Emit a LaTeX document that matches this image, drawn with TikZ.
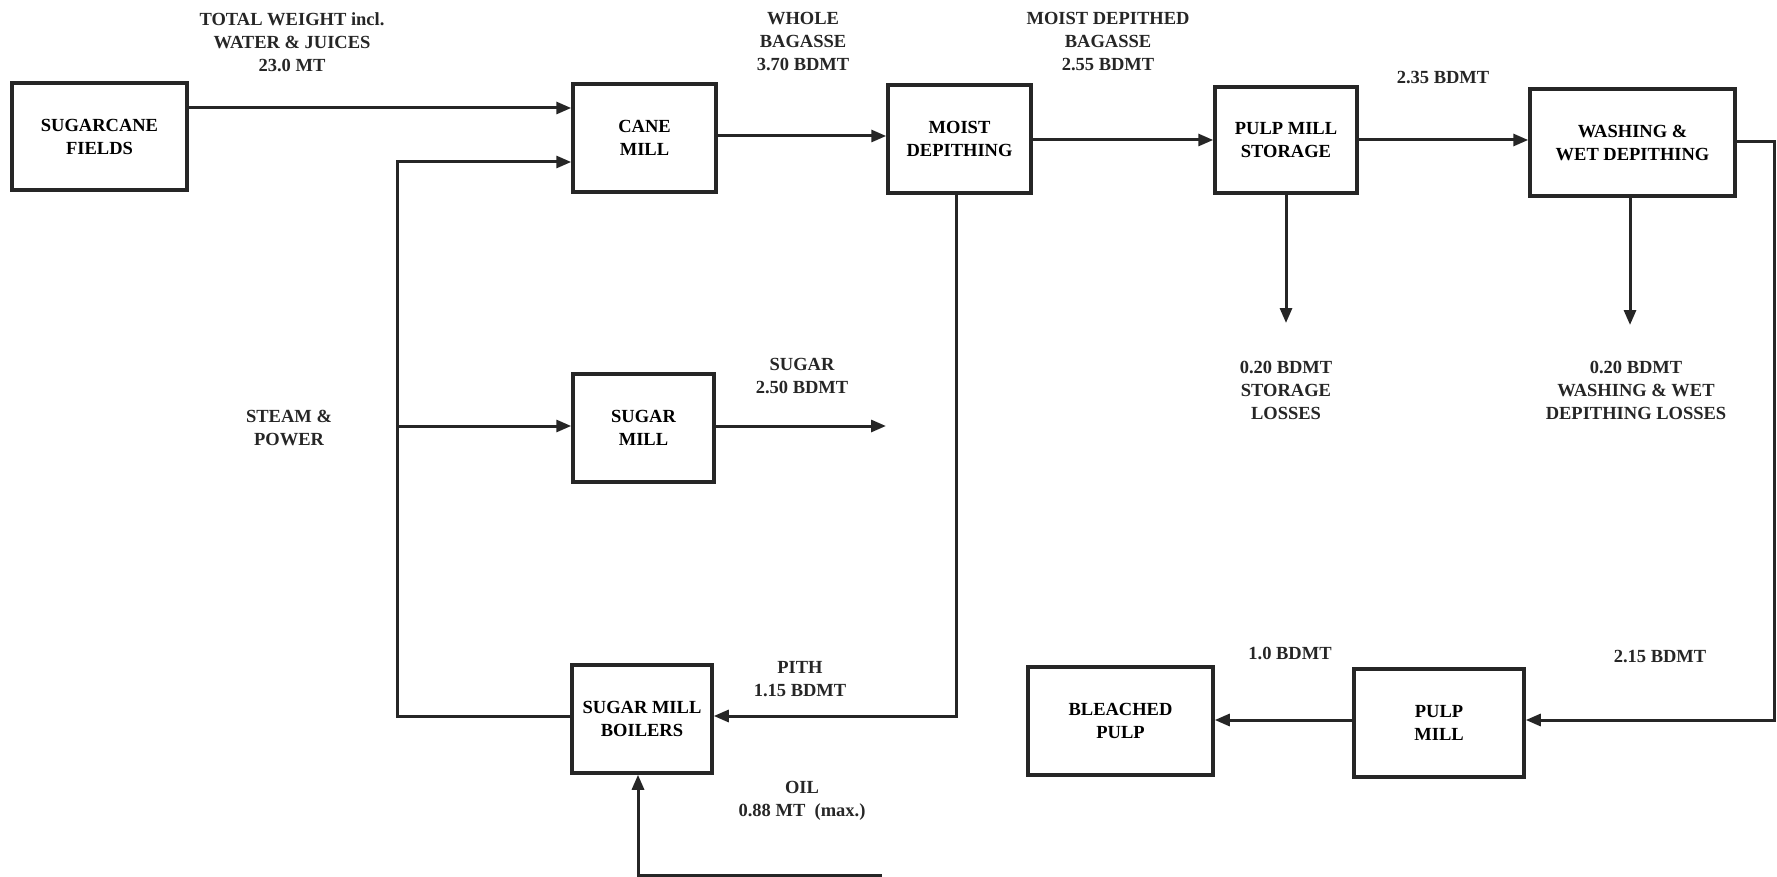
\documentclass[tikz,border=0pt]{standalone}
\usepackage{fontspec}
\setmainfont{Liberation Serif}
\usetikzlibrary{arrows.meta}
\begin{document}
\begin{tikzpicture}[x=1pt,y=-1pt,
  txt/.style={font=\bfseries\fontsize{18.5}{23}\selectfont, align=center},
  box/.style={txt, draw=black!85, line width=3.5pt, inner sep=0pt},
  lbl/.style={txt, inner sep=0pt, anchor=north, text=black!85},
  arr/.style={draw=black!85, line width=3pt, -{Triangle[length=15pt,width=12pt]}},
  ln/.style={draw=black!85, line width=3pt}]
\useasboundingbox (0,0) rectangle (1777,877);
% boxes
\node[box, minimum width=175pt, minimum height=107pt] (fields) at (99.5,136.5) {SUGARCANE\\FIELDS};
\node[box, minimum width=143pt, minimum height=108pt] (cane) at (644.5,138) {CANE\\MILL};
\node[box, minimum width=143pt, minimum height=108pt] (moist) at (959.5,139) {MOIST\\DEPITHING};
\node[box, minimum width=142pt, minimum height=106pt] (stor) at (1286,140) {PULP MILL\\STORAGE};
\node[box, minimum width=205pt, minimum height=107pt] (wash) at (1632.5,142.5) {WASHING \&\\WET DEPITHING};
\node[box, minimum width=141pt, minimum height=108pt] (sugar) at (643.5,428) {SUGAR\\MILL};
\node[box, minimum width=140pt, minimum height=108pt] (boil) at (642,719) {SUGAR MILL\\BOILERS};
\node[box, minimum width=185pt, minimum height=108pt] (bleach) at (1120.5,721) {BLEACHED\\PULP};
\node[box, minimum width=170pt, minimum height=108pt] (pm) at (1439,723) {PULP\\MILL};
% labels
\node[lbl] (l1) at (292,12) {TOTAL WEIGHT incl.\\WATER \& JUICES\\23.0 MT};
\node[lbl] (l2) at (803,12) {WHOLE\\BAGASSE\\3.70 BDMT};
\node[lbl] (l3) at (1108,12) {MOIST DEPITHED\\BAGASSE\\2.55 BDMT};
\node[lbl] (l4) at (1443,71) {2.35 BDMT};
\node[lbl] (l5) at (1286,361) {0.20 BDMT\\STORAGE\\LOSSES};
\node[lbl] (l6) at (1636,361) {0.20 BDMT\\WASHING \& WET\\DEPITHING LOSSES};
\node[lbl] (l7) at (289,410) {STEAM \&\\POWER};
\node[lbl] (l8) at (802,358) {SUGAR\\2.50 BDMT};
\node[lbl] (l9) at (800,661) {PITH\\1.15 BDMT};
\node[lbl] (l10) at (802,781) {OIL\\0.88 MT~~(max.)};
\node[lbl] (l11) at (1290,647) {1.0 BDMT};
\node[lbl] (l12) at (1660,650) {2.15 BDMT};
% free ends
\coordinate (sugarout) at (886,426);
\coordinate (oilend) at (882,875);
\coordinate (stordown) at (1286,323);
\coordinate (washdown) at (1630,325);
% connectors
\draw[arr] (fields.east |- 0,108) -- (cane.west |- 0,108);
\draw[arr] (cane.east |- 0,136) -- (moist.west |- 0,136);
\draw[arr] (moist.east |- 0,140) -- (stor.west |- 0,140);
\draw[arr] (stor.east |- 0,140) -- (wash.west |- 0,140);
\draw[arr] (stor.south) -- (stordown);
\draw[arr] (wash.south -| washdown) -- (washdown);
\draw[arr] (wash.east |- 0,142) -| (1774.5,720) -- (pm.east |- 0,720);
\draw[arr] (pm.west |- 0,720) -- (bleach.east |- 0,720);
\draw[arr] (boil.west |- 0,716) -| (397,162) -- (cane.west |- 0,162);
\draw[arr] (397,426) -- (sugar.west |- 0,426);
\draw[arr] (sugar.east |- sugarout) -- (sugarout);
\draw[arr] (moist.south -| 956,0) |- (boil.east |- 0,716);
\draw[arr] (oilend) -| (boil.south -| 638,0);
\end{tikzpicture}
\end{document}
